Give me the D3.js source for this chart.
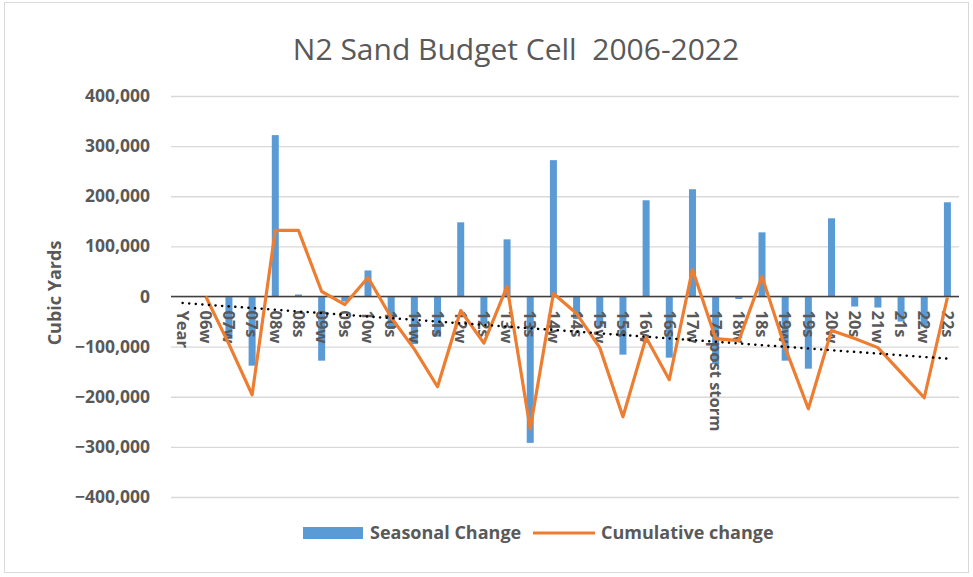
<!DOCTYPE html>
<html>
<head>
<meta charset="utf-8">
<script src="https://cdn.jsdelivr.net/npm/d3@7"></script>
<style>
  body { margin:0; background:#fff; }
  text { font-family:"Open Sans", sans-serif; fill:#595959; }
</style>
</head>
<body>
<div class="chart"></div>
<script>
const categories = ["Year","06w","07w","07s","08w","08s","09w","09s","10w","10s","11w","11s",
  "12w","12s","13w","13s","14w","14s","15w","15s","16w","16s","17w","17s post storm",
  "18w","18s","19w","19s","20w","20s","21w","21s","22w","22s"];

const seasonal = [null,null,-85000,-138000,322000,4000,-128000,-10000,52000,-65000,-95000,-80000,
  148000,-55000,114000,-292000,272000,-45000,-60000,-116000,192000,-122000,214000,-135000,
  -5000,128000,-128000,-144000,156000,-20000,-22000,-50000,-60000,188000];

const cumulative = [null,0,-95000,-196000,132000,132000,10000,-16000,38000,-42000,-105000,-180000,
  -28000,-93000,20000,-264000,6000,-34000,-102000,-240000,-82000,-166000,54000,-84000,
  -88000,40000,-102000,-224000,-68000,-84000,-102000,-152000,-202000,-2000];

// linear trendline of the cumulative series, end values
const trend = [{cat:"Year",v:-13000},{cat:"22s",v:-124000}];

const yTicks = [-400000,-300000,-200000,-100000,0,100000,200000,300000,400000];

const W = 973, H = 577;
const margin = {top:96,left:171,right:14,bottom:80};

const svg = d3.select(".chart").append("svg")
  .attr("width",W).attr("height",H);

svg.append("rect")
  .attr("x",4.5).attr("y",2.5).attr("width",964).attr("height",570)
  .attr("fill","#fff").attr("stroke","#d9d9d9");

const x = d3.scaleBand().domain(categories).range([margin.left, W - margin.right]);
const y = d3.scaleLinear().domain([-400000,400000]).range([497,96]);
const cx = c => x(c) + x.bandwidth()/2;
const barW = 7;

// title
svg.append("text")
  .attr("x",516).attr("y",60)
  .attr("text-anchor","middle")
  .attr("font-size",30)
  .attr("xml:space","preserve")
  .text("N2 Sand Budget Cell  2006-2022");

// grid + y axis
const yAxis = d3.axisLeft(y).tickValues(yTicks)
  .tickSize(-(W - margin.right - margin.left))
  .tickFormat(d3.format(","));

const gy = svg.append("g")
  .attr("transform",`translate(${margin.left},0)`)
  .call(yAxis);
gy.select(".domain").remove();
gy.selectAll(".tick line").attr("stroke","#d9d9d9").attr("stroke-width",1.3);
gy.selectAll(".tick text")
  .attr("x",-21)
  .attr("font-size",17.5).attr("font-weight","bold")
  .attr("fill","#595959")
  .style("font-family","'Open Sans', sans-serif");

svg.append("text")
  .attr("transform","translate(61,293) rotate(-90)")
  .attr("text-anchor","middle")
  .attr("font-size",18).attr("font-weight","bold")
  .text("Cubic Yards");

// bars
const idx = categories.map((c,i) => ({c, s:seasonal[i], cu:cumulative[i]}));

svg.append("g").selectAll("rect")
  .data(idx.filter(d => d.s !== null))
  .enter().append("rect")
  .attr("x", d => cx(d.c) - barW/2)
  .attr("width", barW)
  .attr("y", d => y(Math.max(0,d.s)))
  .attr("height", d => Math.abs(y(d.s) - y(0)))
  .attr("fill","#5b9bd5");

// zero axis line
svg.append("line")
  .attr("x1",margin.left).attr("x2",W - margin.right)
  .attr("y1",y(0)).attr("y2",y(0))
  .attr("stroke","#404040").attr("stroke-width",1.5);

// x labels (rotated)
const xAxis = d3.axisBottom(x).tickSize(0);
const gx = svg.append("g")
  .attr("transform",`translate(0,${y(0)})`)
  .call(xAxis);
gx.select(".domain").remove();
gx.selectAll(".tick text")
  .attr("transform","rotate(90)")
  .attr("x",14).attr("y",0).attr("dy","0.35em")
  .attr("text-anchor","start")
  .attr("font-size",16.5).attr("font-weight","bold")
  .attr("fill","#595959")
  .style("font-family","'Open Sans', sans-serif");

// cumulative line
const line = d3.line()
  .defined(d => d.cu !== null)
  .x(d => cx(d.c)).y(d => y(d.cu));

svg.append("path")
  .datum(idx)
  .attr("d",line)
  .attr("fill","none")
  .attr("stroke","#ed7d31")
  .attr("stroke-width",3.2)
  .attr("stroke-linejoin","round");

// trendline
svg.append("path")
  .datum(trend)
  .attr("d", d3.line().x(d => cx(d.cat)).y(d => y(d.v)))
  .attr("fill","none")
  .attr("stroke","#000")
  .attr("stroke-width",2.5)
  .attr("stroke-linecap","round")
  .attr("stroke-dasharray","0.1 6.5");

// legend
const lg = svg.append("g");
lg.append("rect").attr("x",303).attr("y",527).attr("width",60).attr("height",12).attr("fill","#5b9bd5");
lg.append("text").attr("x",370).attr("y",539).attr("font-size",18).attr("font-weight","bold").text("Seasonal Change");
lg.append("line").attr("x1",533).attr("x2",595).attr("y1",533).attr("y2",533)
  .attr("stroke","#ed7d31").attr("stroke-width",3);
lg.append("text").attr("x",601).attr("y",539).attr("font-size",18).attr("font-weight","bold").text("Cumulative change");
</script>
</body>
</html>
